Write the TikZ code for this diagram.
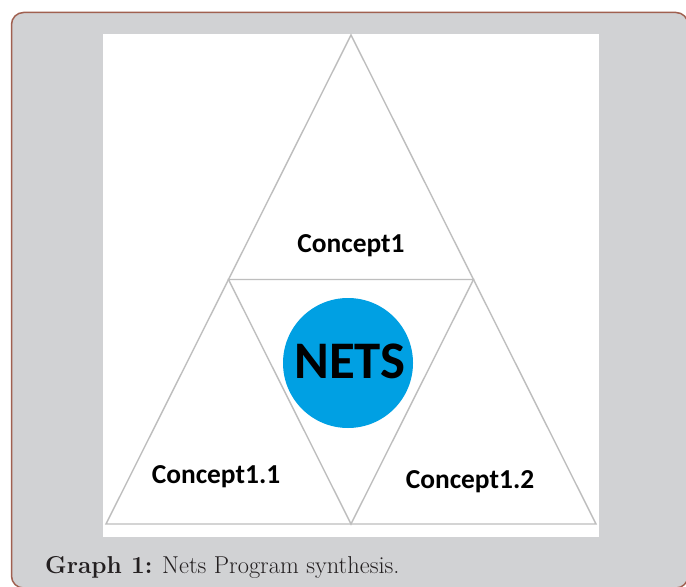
\documentclass[tikz,border=0pt]{standalone}
\usepackage{fontspec}
\newfontfamily\labelfont{Carlito}
\definecolor{panelgray}{RGB}{209,210,212}
\definecolor{panelborder}{RGB}{160,96,80}
\definecolor{linegray}{RGB}{190,190,190}
\definecolor{netsblue}{RGB}{0,160,227}
\definecolor{captiontext}{RGB}{35,31,32}
\begin{document}
\begin{tikzpicture}[x=1bp,y=-1bp,
  edge/.style={draw=linegray, line width=1.4bp, line join=miter},
  concept/.style={font=\labelfont\bfseries\fontsize{27.5}{32}\selectfont, text=black, inner sep=0pt, anchor=base},
  netslabel/.style={font=\labelfont\bfseries\fontsize{53}{58}\selectfont, text=black, inner sep=0pt},
  caption/.style={text=captiontext, inner sep=0pt, anchor=base west, font=\fontsize{24.5}{29}\selectfont}]
\useasboundingbox (0,0) rectangle (686,587);
\begin{scope}
  \clip (0,0) rectangle (686,587);
  % framed panel and white drawing area
  \draw[fill=panelgray, draw=panelborder, line width=1.5bp, rounded corners=12bp]
    (11.5,12.5) rectangle (688,588);
  \fill[white] (103,34) rectangle (599,537);
\end{scope}
% corner points of the large triangle and of the inner inverted one
\coordinate (apex) at (351,35);
\coordinate (bl) at (106,524);
\coordinate (br) at (596,524);
\coordinate (ml) at (228.5,279.5);
\coordinate (mr) at (473.5,279.5);
\coordinate (mb) at (351,524);
\draw[edge] (apex) -- (br) -- (bl) -- cycle;
\draw[edge] (ml) -- (mr) -- (mb) -- cycle;
% central disc
\node[circle, fill=netsblue, minimum size=130bp, inner sep=0pt] (disc) at (348,363) {};
\node[netslabel] (nets) at (350,361.5) {NETS};
% labels of the three outer triangles
\node[concept] (c1) at (351,252) {Concept1};
\node[concept] (c11) at (216,483) {Concept1.1};
\node[concept] (c12) at (470,488) {Concept1.2};
% caption
\node[caption] (cap) at (45,573) {\textbf{Graph 1:} Nets Program synthesis.};
\end{tikzpicture}
\end{document}
